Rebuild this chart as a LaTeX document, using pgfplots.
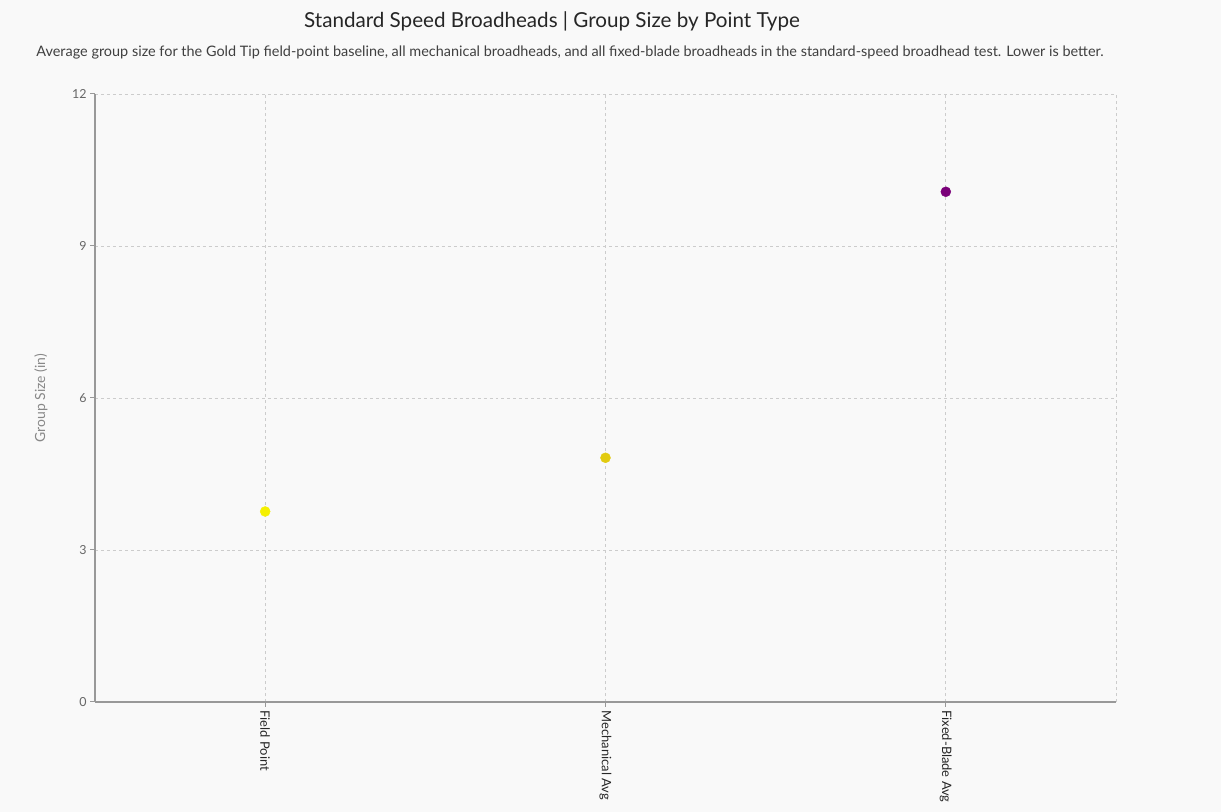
\documentclass[border=0pt]{standalone}
\usepackage{pgfplots}
\pgfplotsset{compat=1.18}
\usepackage{fontspec}
\setmainfont{Lato}
\definecolor{bg}{HTML}{F9F9F9}
\definecolor{axgray}{HTML}{999999}
\definecolor{gridgray}{HTML}{CCCCCC}
\definecolor{ticktext}{HTML}{666666}
\definecolor{ylab}{HTML}{888888}
\definecolor{cFP}{HTML}{F5F000}
\definecolor{cMA}{HTML}{E2CB10}
\definecolor{cFB}{HTML}{7A0079}
\begin{document}
\begin{tikzpicture}[x=1bp,y=1bp]
\fill[bg] (0,0) rectangle (1221,812);
\node[font=\fontsize{20.7}{22}\selectfont, text=black!85] at (552,791) {Standard Speed Broadheads | Group Size by Point Type};
\node[font=\fontsize{14.5}{16}\selectfont, text=black!75] at (570,759) {Average group size for the Gold Tip field-point baseline, all mechanical broadheads, and all fixed-blade broadheads in the standard-speed broadhead test. Lower is better.};
\begin{axis}[
  at={(95bp,110bp)}, anchor=south west,
  width=1021bp, height=608bp, scale only axis,
  xmin=-0.5, xmax=2.5, ymin=0, ymax=12,
  xtick={0,1,2}, xticklabels={Field Point, Mechanical Avg, Fixed-Blade Avg},
  ytick={0,3,6,9,12},
  /pgf/number format/assume math mode=true,
  axis lines=left,
  axis line style={axgray, line width=1.3bp, -},
  tick style={axgray, line width=1bp},
  tick align=outside,
  major tick length=5bp,
  grid=major,
  grid style={gridgray, dashed, line width=0.8bp},
  x tick label style={rotate=-90, anchor=west, font=\fontsize{13}{14}\selectfont, text=black!85},
  y tick label style={font=\fontsize{12.5}{14}\selectfont, text=ticktext},
  ylabel={Group Size (in)},
  every axis y label/.style={at={(axis description cs:0,0.5)}, xshift=-54bp, rotate=90, anchor=center, font=\fontsize{14}{15}\selectfont, text=ylab},
  extra x ticks={2.5}, extra x tick labels={},
  extra x tick style={major tick length=0bp, grid=major},
  clip=false,
]
\addplot[only marks, mark=*, mark size=5bp, color=cFP] coordinates {(0,3.76)};
\addplot[only marks, mark=*, mark size=5bp, color=cMA] coordinates {(1,4.82)};
\addplot[only marks, mark=*, mark size=5bp, color=cFB] coordinates {(2,10.07)};
\end{axis}
\end{tikzpicture}
\end{document}
